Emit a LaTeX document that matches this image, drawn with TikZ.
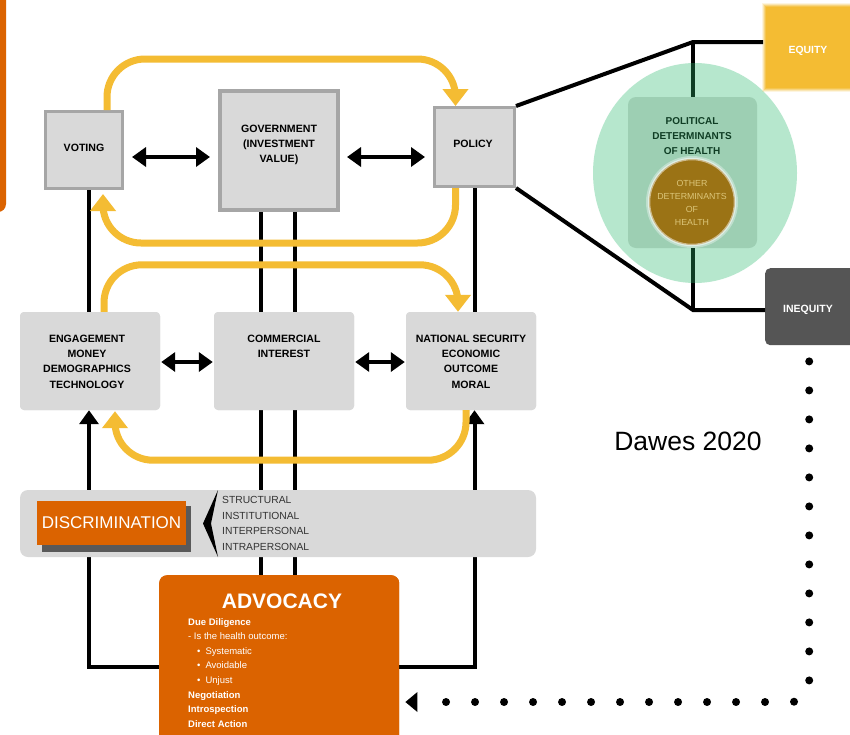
\documentclass[tikz,border=0pt]{standalone}
\usepackage{fontspec}
\setmainfont{Liberation Sans}
\usetikzlibrary{arrows.meta,calc,shapes.geometric}
\definecolor{ylw}{HTML}{F4BC33}
\definecolor{org}{HTML}{DB6300}
\definecolor{boxg}{HTML}{D9D9D9}
\definecolor{bord}{HTML}{A6A6A6}
\definecolor{dkg}{HTML}{595959}
\definecolor{mint}{HTML}{B6E7CD}
\definecolor{mintd}{HTML}{9DCFB3}
\definecolor{pdht}{HTML}{0F3D24}
\definecolor{brwn}{HTML}{9B7315}
\definecolor{odt}{HTML}{DCC67A}
\definecolor{ineq}{HTML}{555555}
\definecolor{listt}{HTML}{333333}
\begin{document}
\begin{tikzpicture}[x=1pt,y=-1pt,
  lbl/.style={font=\fontsize{10.6}{15.3}\selectfont\bfseries, align=center, text=black, inner sep=0pt},
  topbox/.style={draw=bord, line width=3pt, fill=boxg, inner sep=0pt},
  midbox/.style={fill=boxg, rounded corners=4pt, inner sep=0pt, minimum height=98pt},
  yarrow/.style={draw=ylw, line width=7pt, rounded corners=38pt, -{Triangle[width=25pt,length=17pt]}},
  barrow/.style={line width=4pt, {Triangle[width=19pt,length=14pt]}-{Triangle[width=19pt,length=14pt]}},
  bline/.style={line width=4pt},
  uparrow/.style={line width=4pt, -{Triangle[width=19pt,length=14pt]}},
  whitebold/.style={text=white, font=\fontsize{10.4}{12}\selectfont\bfseries, inner sep=0pt},
]
\useasboundingbox (0,0) rectangle (850,734);
\clip (0,0) rectangle (850,734);
\fill[white] (0,0) rectangle (850,734);

% orange sliver at top left
\fill[org, rounded corners=8pt] (-20,-10) rectangle (6,212);

% ---------- nodes (boxes) ----------
\node[topbox, minimum width=77pt, minimum height=77pt] (voting) at (84,150) {};
\node[topbox, line width=4pt, minimum width=118pt, minimum height=119pt] (gov) at (279,150.5) {};
\node[topbox, minimum width=80pt, minimum height=79pt] (policy) at (474.5,147) {};

\node[midbox, minimum width=140pt] (eng) at (90,361) {};
\node[midbox, minimum width=140pt] (comm) at (284,361) {};
\node[midbox, minimum width=130pt] (nat) at (471,361) {};

\node[fill=org, rounded corners=8pt, minimum width=240pt, minimum height=190pt, anchor=north west, inner sep=0pt] (adv) at (159,575) {};

% ---------- black connectors behind ----------
\draw[bline] ([xshift=-18pt]gov.south) -- ([xshift=-18pt]gov.south |- adv.north);
\draw[bline] ([xshift=16pt]gov.south) -- ([xshift=16pt]gov.south |- adv.north);
\draw[bline] (voting.south -| 89,0) -- (eng.north -| 89,0);
\draw[bline] (policy.south) -- (policy.south |- nat.north);
\draw[uparrow] (adv.west |- 0,667) -| (eng.south -| 89,0);
\draw[uparrow] (adv.east |- 0,667) -| (policy.south |- nat.south);

% redraw boxes on top of lines
\node[midbox, minimum width=140pt] at (eng) {};
\node[midbox, minimum width=140pt] at (comm) {};
\node[midbox, minimum width=130pt] at (nat) {};

% band
\node[fill=boxg, rounded corners=8pt, minimum width=516pt, minimum height=67pt, inner sep=0pt] (band) at (278,523.5) {};
\fill[dkg] (42,506) rectangle (191,552);
\node[fill=org, minimum width=149pt, minimum height=44pt, inner sep=0pt, text=white, font=\fontsize{17}{20}\selectfont] (discr) at (111.5,522.5) {DISCRIMINATION};
\fill (218,490) -- (203,523.5) -- (218,557) -- (211,523.5) -- cycle;
\node[anchor=north west, align=left, inner sep=0pt, text=listt, font=\fontsize{10.3}{15.4}\selectfont] (levels) at (222,496.5) {STRUCTURAL\\INSTITUTIONAL\\INTERPERSONAL\\INTRAPERSONAL};

% advocacy box on top
\node[fill=org, rounded corners=8pt, minimum width=240pt, minimum height=190pt, anchor=north west, inner sep=0pt] at (159,575) {};
\node[text=white, font=\fontsize{21}{24}\selectfont\bfseries, inner sep=0pt] (advt) at (282,601.5) {ADVOCACY};
\node[anchor=north west, align=left, inner sep=0pt, text=white, font=\fontsize{9.5}{14.6}\selectfont] (advl) at (188,618) {\textbf{Due Diligence}\\
- Is the health outcome:\\
\hspace*{9pt}\textbullet\hspace{5pt}Systematic\\
\hspace*{9pt}\textbullet\hspace{5pt}Avoidable\\
\hspace*{9pt}\textbullet\hspace{5pt}Unjust\\
\textbf{Negotiation}\\
\textbf{Introspection}\\
\textbf{Direct Action}};

% ---------- labels ----------
\node[lbl] (votingt) at (84,148) {VOTING};
\node[lbl] (govt) at (279,145) {GOVERNMENT\\(INVESTMENT\\VALUE)};
\node[lbl] (policyt) at (473,144) {POLICY};
\node[lbl] (engt) at (87,361.5) {ENGAGEMENT\\MONEY\\DEMOGRAPHICS\\TECHNOLOGY};
\node[lbl, anchor=north] (commt) at (284,334.5) {COMMERCIAL\\INTEREST};
\node[lbl] (natt) at (471,361.5) {NATIONAL SECURITY\\ECONOMIC\\OUTCOME\\MORAL};

% ---------- black double arrows ----------
\draw[barrow, shorten <=8pt, shorten >=8pt] (voting.east |- 0,157) -- (gov.west |- 0,157);
\draw[barrow, shorten <=7pt, shorten >=8pt] (gov.east |- 0,157) -- (policy.west |- 0,157);
\draw[barrow, shorten <=1pt, shorten >=1pt] (eng.east |- 0,362) -- (comm.west |- 0,362);
\draw[barrow, shorten <=1pt, shorten >=1pt] (comm.east |- 0,362) -- (nat.west |- 0,362);

% ---------- yellow arrows ----------
\draw[yarrow] ([xshift=23pt]voting.north) -- ++(0,-51) -| ([xshift=-19pt]policy.north);
\draw[yarrow] ([xshift=-19pt]policy.south) -- ++(0,55) -| ([xshift=19pt,yshift=-4pt]voting.south);
\draw[yarrow] ([xshift=14pt]eng.north) -- ++(0,-47) -| ([xshift=-13pt]nat.north);
\draw[yarrow] ([xshift=-5pt]nat.south) -- ++(0,50) -| ([xshift=25pt,yshift=-1pt]eng.south);

% ---------- right side ----------
\node[ellipse, fill=mint, minimum width=204pt, minimum height=220pt, inner sep=0pt] (circ) at (695,173) {};
\node[fill=mintd, rounded corners=8pt, minimum width=129pt, minimum height=151pt, inner sep=0pt] (pdh) at (692.5,172.5) {};
\coordinate (tp) at (693,42);
\coordinate (bt) at (693,310);

% equity (blurred)
\foreach \e/\o in {4/0.15,3/0.25,2/0.4,1/0.6}{
  \fill[ylw, opacity=\o] (766-\e,7-\e) rectangle (860,88+\e);
}
\node[fill=ylw, minimum width=94pt, minimum height=81pt, anchor=north west, inner sep=0pt] (equity) at (766,7) {};
\node[whitebold] (equityt) at (808,51) {EQUITY};

\node[fill=ineq, rounded corners=5pt, minimum width=92pt, minimum height=77pt, anchor=north west, inner sep=0pt] (inequity) at (765,268) {};
\node[whitebold, font=\fontsize{10.5}{12}\selectfont\bfseries] (inequityt) at (808,309.5) {INEQUITY};

\draw[bline, line join=miter] (policy.north east) -- (tp) -- ([xshift=-3pt]equity.west |- tp);
\draw[bline, line join=miter] (policy.south east) -- (bt) -- (inequity.west |- bt);
\draw[bline] (tp) -- (tp |- circ.north);
\draw[bline, pdht] (tp |- circ.north) -- (tp |- pdh.north);
\draw[bline, pdht] (tp |- pdh.south) -- (tp |- circ.south);
\draw[bline] (tp |- circ.south) -- (bt);

\node[text=pdht, align=center, inner sep=0pt, font=\fontsize{10}{15}\selectfont\bfseries] (pdht) at (692,136) {POLITICAL\\DETERMINANTS\\OF HEALTH};
\node[circle, fill=white, fill opacity=0.35, minimum size=92pt, inner sep=0pt] (glow) at (692,202) {};
\node[circle, fill=brwn, draw=white, draw opacity=0.5, line width=2.5pt, minimum size=86pt, inner sep=0pt] (odh) at (692,202) {};
\node[text=odt, align=center, inner sep=0pt, font=\fontsize{8.8}{13}\selectfont] (odht) at (692,203) {OTHER\\DETERMINANTS\\OF\\HEALTH};

% ---------- dotted connector ----------
\coordinate (dstart) at ([xshift=-2pt,yshift=-16pt]inequity.south);
\coordinate (dend) at ([xshift=6pt]adv.east |- 0,702);
\draw[line width=8pt, line cap=round, dash pattern=on 0pt off 29pt, rounded corners=18pt] (dstart) -- (dstart |- 0,702) -- ([xshift=14pt]dend);
\fill (dend) -- ++(12,-10) -- ++(0,20) -- cycle;

% citation
\node[font=\fontsize{26.5}{30}\selectfont, inner sep=0pt] (dawes) at (688,441) {Dawes 2020};
\end{tikzpicture}
\end{document}
